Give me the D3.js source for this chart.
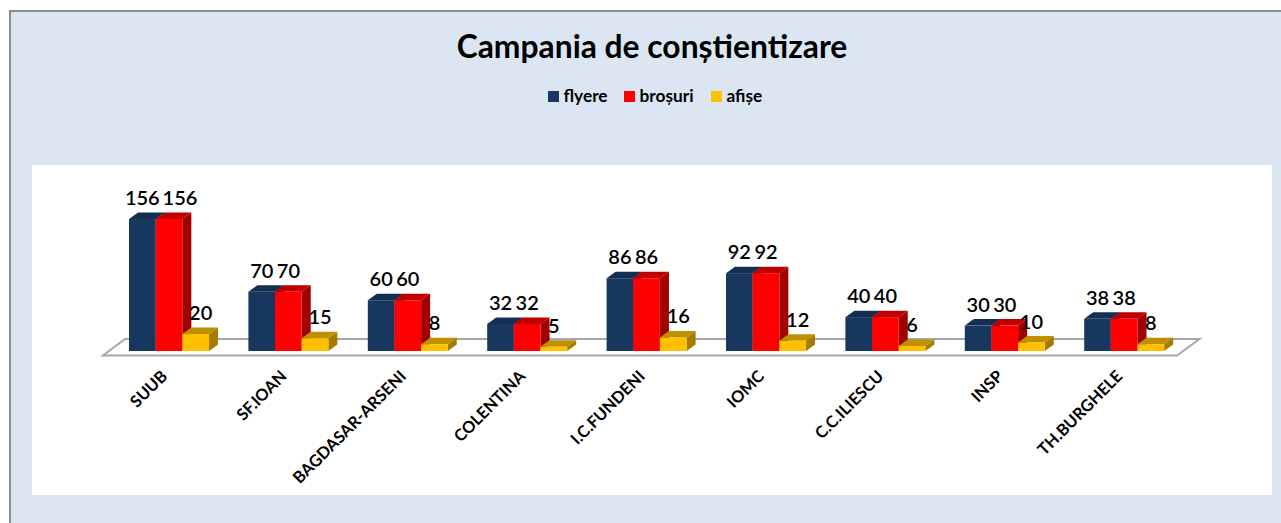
<!DOCTYPE html>
<html><head><meta charset="utf-8">
<script src="https://cdn.jsdelivr.net/npm/d3@7/dist/d3.min.js"></script>
<style>html,body{margin:0;padding:0;background:#fff;overflow:hidden}svg{display:block}text{font-family:Lato,"Open Sans",sans-serif;fill:#000}</style>
</head><body><svg id="c" width="1281" height="523"></svg>
<script>
const categories=["SUUB","SF.IOAN","BAGDASAR-ARSENI","COLENTINA","I.C.FUNDENI","IOMC","C.C.ILIESCU","INSP","TH.BURGHELE"];
const seriesNames=["flyere","broșuri","afișe"];
const flyere=[156,70,60,32,86,92,40,30,38];
const brosuri=[156,70,60,32,86,92,40,30,38];
const afise=[20,15,8,5,16,12,6,10,8];
const seriesValues=[flyere,brosuri,afise];
const frontColors=["#17375e","#ff0000","#ffc000"];
const topColors=["#142f50","#c00000","#bf9000"];
const sideColors=["#10263f","#a00000","#a67c00"];

const svg=d3.select("#c");
svg.append("rect").attr("x",10).attr("y",11).attr("width",1290).attr("height",530).attr("fill","#dce6f2").attr("stroke","#8c8c8c").attr("stroke-width",2);
svg.append("rect").attr("x",32).attr("y",165).attr("width",1240).attr("height",330).attr("fill","#fff");

svg.append("text").attr("x",652).attr("y",58).attr("text-anchor","middle").attr("font-size",31.8).attr("font-weight",700).text("Campania de conștientizare");

const legendX=[548,624,711];
seriesNames.forEach((n,i)=>{
  svg.append("rect").attr("x",legendX[i]).attr("y",91).attr("width",11).attr("height",11).attr("fill",frontColors[i]);
  svg.append("text").attr("x",legendX[i]+15.5).attr("y",102).attr("font-size",17.3).attr("font-weight",700).text(n);
});

const baseY=351, dx=9, dy=6.5;
const step=119.4;
const xg=d3.scalePoint().domain(categories).range([129,129+step*8]);
const xs=d3.scaleBand().domain(d3.range(3)).range([0,80]);
const y=d3.scaleLinear().domain([0,156]).range([baseY,219]);

// floor
const floor=[[103,355.5],[125,339],[1199.5,339],[1177,355.5]];
svg.append("polygon").attr("points",floor.join(" ")).attr("fill","#fff").attr("stroke","#a6a6a6").attr("stroke-width",2);

const bars=[];
categories.forEach((c,ci)=>seriesValues.forEach((vals,si)=>bars.push({c,ci,si,v:vals[ci]})));
const g=svg.selectAll("g.bar").data(bars).join("g").attr("class","bar");
g.each(function(d){
  const s=d3.select(this);
  const l=xg(d.c)+xs(d.si), w=xs.bandwidth(), t=y(d.v);
  s.append("polygon").attr("fill",topColors[d.si]).attr("points",[[l,t],[l+dx,t-dy],[l+w+dx,t-dy],[l+w,t]].join(" "));
  s.append("polygon").attr("fill",sideColors[d.si]).attr("points",[[l+w,t],[l+w+dx,t-dy],[l+w+dx,baseY-dy],[l+w,baseY]].join(" "));
  s.append("rect").attr("x",l).attr("y",t).attr("width",w).attr("height",baseY-t).attr("fill",frontColors[d.si]);
});
// the labels nudge sideways to clear their neighbours, as in the reference
const nudge=d=>(d.si===1&&d.v>=100)?11:(d.si===2&&d.v>=12)?5:0;
svg.selectAll("text.val").data(bars).join("text").attr("class","val")
  .attr("x",d=>xg(d.c)+xs(d.si)+xs.bandwidth()/2+nudge(d))
  .attr("y",d=>y(d.v)-14)
  .attr("text-anchor","middle").attr("font-size",20).attr("font-weight",600)
  .text(d=>d.v);

svg.selectAll("text.cat").data(categories).join("text").attr("class","cat")
  .attr("text-anchor","end").attr("font-size",16.4).attr("font-weight",700)
  .attr("transform",c=>`translate(${xg(c)+30},${368}) rotate(-45)`)
  .attr("dy","0.8em").text(c=>c);
</script></body></html>
